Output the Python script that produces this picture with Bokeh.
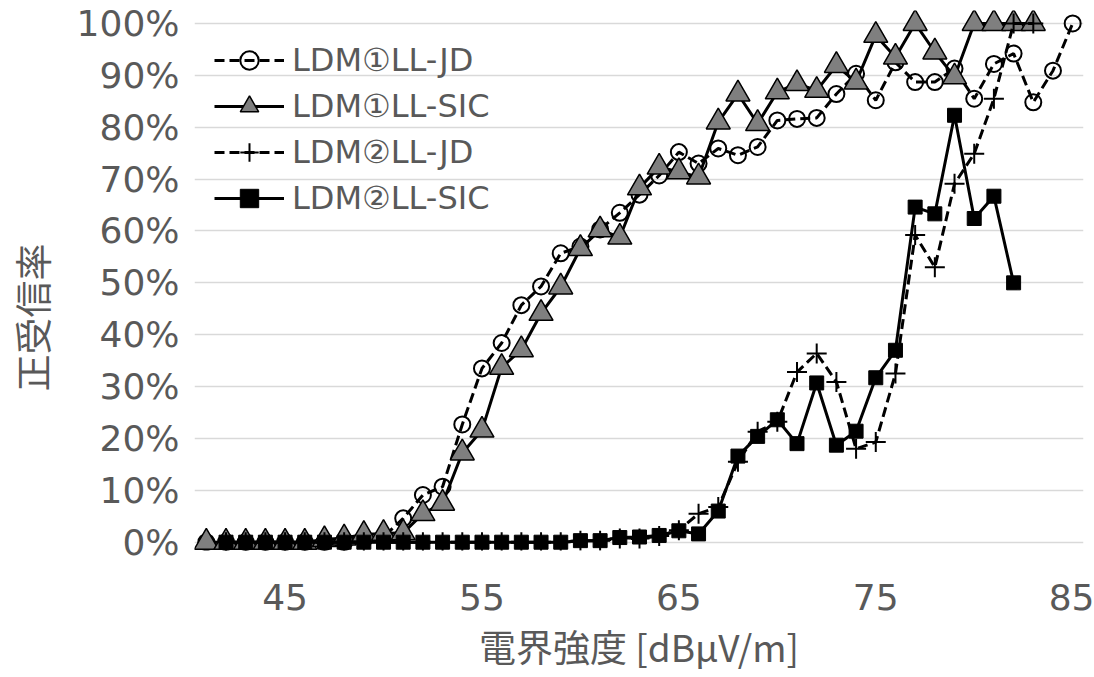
from bokeh.plotting import figure
from bokeh.models import (Range1d, FixedTicker, Legend, LegendItem, Title,
                          PrintfTickFormatter)
from bokeh.embed import file_html
from bokeh.resources import INLINE

# ---------------- data ----------------
x_ticks = [45, 55, 65, 75, 85]
y_ticks = [0, 10, 20, 30, 40, 50, 60, 70, 80, 90, 100]

ldm1_jd_x = list(range(41, 86))
ldm1_jd = [0, 0, 0, 0, 0, 0, 0, 0, 0.5, 1.0,
           4.6, 9.1, 10.7, 22.7, 33.5, 38.4, 45.7, 49.3, 55.7, 57.0,
           60.3, 63.5, 67.0, 70.7, 75.2, 73.0, 75.9, 74.6, 76.2, 81.3,
           81.6, 81.8, 86.4, 90.3, 85.2, 92.5, 88.7, 88.7, 91.3, 85.5,
           92.2, 94.2, 84.8, 90.9, 100]

ldm1_sic_x = list(range(41, 84))
ldm1_sic = [0, 0, 0, 0, 0, 0, 0.5, 0.8, 1.5, 1.7,
            1.8, 5.5, 7.5, 17.2, 21.6, 33.7, 37.1, 44.1, 49.2, 56.6,
            60.2, 58.8, 68.3, 72.3, 71.4, 70.4, 81.0, 86.4, 80.7, 86.8,
            88.4, 87.1, 91.9, 88.7, 97.7, 93.5, 100, 94.5, 89.7, 100,
            100, 100, 100]

ldm2_jd_x = list(range(42, 84))
ldm2_jd = [0, 0, 0, 0, 0, 0, 0, 0, 0, 0, 0, 0, 0, 0, 0, 0, 0, 0,
           0.3, 0.3, 0.7, 0.7, 1.2, 2.3, 5.5, 6.8, 15.5, 21.3,
           23.2, 32.8, 36.4, 30.9, 18.0, 19.3, 32.5, 59.2, 53.0, 69.1,
           74.9, 85.5, 100, 100]

ldm2_sic_x = list(range(42, 83))
ldm2_sic = [0, 0, 0, 0, 0, 0, 0, 0, 0, 0, 0, 0, 0, 0, 0, 0, 0, 0,
            0.3, 0.3, 0.9, 1.0, 1.3, 2.2, 1.6, 6.0, 16.6, 20.4,
            23.6, 19.0, 30.7, 18.7, 21.4, 31.7, 37.0, 64.6, 63.3, 82.3,
            62.4, 66.7, 50.0]

labels = ["LDM①LL-JD", "LDM①LL-SIC", "LDM②LL-JD", "LDM②LL-SIC"]
x_title = "電界強度 [dBμV/m]"
y_title = "正受信率"

CJK = "Noto Sans CJK JP"
LAT = "DejaVu Sans"
TXT = "#595959"

p = figure(width=1094, height=677, output_backend="svg", toolbar_location=None,
           x_range=Range1d(40.4, 85.55), y_range=Range1d(-1.6, 102.5),
           min_border_left=194, min_border_right=11, min_border_top=10,
           min_border_bottom=127)
p.outline_line_color = None
p.background_fill_color = "white"

for ax in (p.xaxis[0], p.yaxis[0]):
    ax.axis_line_color = None
    ax.major_tick_line_color = None
    ax.minor_tick_line_color = None
    ax.major_tick_out = 0
    ax.major_tick_in = 0
    ax.major_label_text_font = LAT
    ax.major_label_text_font_size = "36px"
    ax.major_label_text_color = TXT

p.xaxis.ticker = FixedTicker(ticks=x_ticks)
p.yaxis.ticker = FixedTicker(ticks=y_ticks)
p.yaxis.formatter = PrintfTickFormatter(format="%d%%")
p.yaxis.major_label_standoff = 15
p.xaxis.major_label_standoff = 33

p.xaxis.axis_label = x_title
p.xaxis.axis_label_text_font = CJK
p.xaxis.axis_label_text_font_size = "37px"
p.xaxis.axis_label_text_font_style = "normal"
p.xaxis.axis_label_text_color = TXT
p.xaxis.axis_label_standoff = 6

# blank spacer label on the y axis to push the y title outward
p.yaxis.axis_label = " "
p.yaxis.axis_label_text_font_size = "2px"
p.yaxis.axis_label_standoff = 10

p.add_layout(Title(text=y_title, align="left", offset=159, standoff=0,
                   text_font=CJK, text_font_size="37px", text_font_style="normal",
                   text_color=TXT), "left")

p.xgrid.grid_line_color = None
p.ygrid.grid_line_color = "#D9D9D9"
p.ygrid.grid_line_width = 1.5

# series
l1 = p.line(ldm1_jd_x, ldm1_jd, line_color="black", line_width=3, line_dash="10 5")
s1 = p.scatter(ldm1_jd_x, ldm1_jd, marker="circle", size=16, fill_color=None,
               line_color="black", line_width=2)

l2 = p.line(ldm1_sic_x, ldm1_sic, line_color="black", line_width=3)
s2 = p.scatter(ldm1_sic_x, ldm1_sic, marker="triangle", size=24, fill_color="#7F7F7F",
               line_color="black", line_width=1.5)

l3 = p.line(ldm2_jd_x, ldm2_jd, line_color="black", line_width=3, line_dash="10 5")
s3 = p.scatter(ldm2_jd_x, ldm2_jd, marker="cross", size=20, line_color="black",
               line_width=2)

l4 = p.line(ldm2_sic_x, ldm2_sic, line_color="black", line_width=3)
s4 = p.scatter(ldm2_sic_x, ldm2_sic, marker="square", size=14, fill_color="black",
               line_color="black", line_width=1)

legend = Legend(items=[LegendItem(label=labels[0], renderers=[l1, s1]),
                       LegendItem(label=labels[1], renderers=[l2, s2]),
                       LegendItem(label=labels[2], renderers=[l3, s3]),
                       LegendItem(label=labels[3], renderers=[l4, s4])],
                location=(20, 329), padding=0, margin=0, spacing=0,
                glyph_width=70, glyph_height=46, label_height=46,
                label_standoff=8, label_text_font=LAT,
                label_text_font_size="32px", label_text_color=TXT,
                background_fill_alpha=0, border_line_color=None)
p.add_layout(legend, "center")

open("out.html", "w").write(file_html(p, INLINE))
